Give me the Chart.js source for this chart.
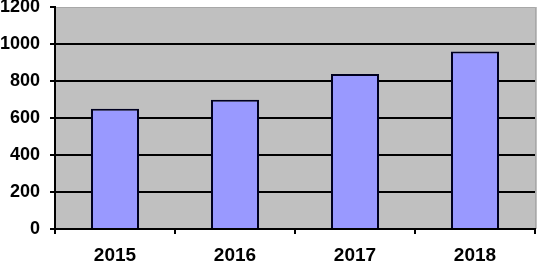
<!DOCTYPE html>
<html>
<head>
<meta charset="utf-8">
<script src="https://cdn.jsdelivr.net/npm/chart.js@4"></script>
<style>
    body { margin: 0; background: #ffffff; }
    canvas { display: block; }
</style>
</head>
<body>
<canvas id="salesChart" width="537" height="264"></canvas>
<script>
const years = ['2015', '2016', '2017', '2018'];
const values = [650, 698, 838, 960];
const yMin = 0;
const yMax = 1200;
const yStep = 200;

// grey plot background like the old Excel chart
const plotBackground = {
    id: 'plotBackground',
    beforeDraw(chart) {
        const { ctx, chartArea } = chart;
        ctx.save();
        ctx.fillStyle = '#c0c0c0';
        ctx.fillRect(chartArea.left, chartArea.top, chartArea.right - chartArea.left + 2, chartArea.bottom - chartArea.top);
        ctx.strokeStyle = '#a8a8a8';
        ctx.lineWidth = 1;
        ctx.beginPath();
        ctx.moveTo(chartArea.left, chartArea.top + 0.5);
        ctx.lineTo(chartArea.right + 0.5, chartArea.top + 0.5);
        ctx.lineTo(chartArea.right + 0.5, chartArea.bottom);
        ctx.stroke();
        ctx.restore();
    }
};

const ctx = document.getElementById('salesChart').getContext('2d');
new Chart(ctx, {
    type: 'bar',
    data: {
        labels: years,
        datasets: [{
            data: values,
            backgroundColor: '#9999ff',
            borderColor: '#000020',
            borderWidth: 2,
            borderSkipped: 'bottom',
            categoryPercentage: 1.0,
            barPercentage: 0.4
        }]
    },
    options: {
        responsive: false,
        animation: false,
        layout: { padding: { top: 7, right: 2, left: 0, bottom: 0 } },
        plugins: {
            legend: { display: false },
            tooltip: { enabled: false }
        },
        scales: {
            x: {
                afterFit(scale) {
                    scale.height = 35;
                    scale.paddingLeft = 0;
                    scale.paddingRight = 0;
                },
                grid: {
                    offset: true,
                    drawOnChartArea: false,
                    drawTicks: true,
                    tickLength: 5,
                    color: '#000000',
                    lineWidth: 2
                },
                border: { color: '#000000', width: 2 },
                ticks: {
                    color: '#000000',
                    padding: 10,
                    font: { family: 'Liberation Sans, Arial, sans-serif', size: 19, weight: 'bold' }
                }
            },
            y: {
                min: yMin,
                max: yMax,
                afterFit(scale) {
                    scale.width = 55;
                    scale.paddingTop = 0;
                    scale.paddingBottom = 0;
                },
                grid: {
                    color: (c) => (c.tick && c.tick.value === yMax ? 'rgba(0,0,0,0)' : '#000000'),
                    tickColor: '#000000',
                    lineWidth: 2,
                    tickLength: 5
                },
                border: { color: '#000000', width: 2 },
                ticks: {
                    stepSize: yStep,
                    color: '#000000',
                    padding: 10,
                    callback: (v) => String(v),
                    font: { family: 'Liberation Sans, Arial, sans-serif', size: 18, weight: 'bold' }
                }
            }
        }
    },
    plugins: [plotBackground]
});
</script>
</body>
</html>
